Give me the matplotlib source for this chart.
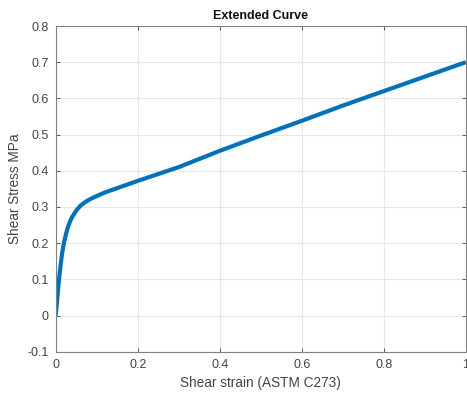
import matplotlib
matplotlib.use("Agg")
from matplotlib import pyplot as plt

plt.rcParams['font.family'] = ['Liberation Sans', 'DejaVu Sans']

# points
strain = [0.0, 0.004, 0.008, 0.012, 0.016, 0.02, 0.025, 0.03, 0.035, 0.04, 0.05,
          0.06, 0.07, 0.08, 0.09, 0.1, 0.12, 0.15, 0.2, 0.25, 0.3, 0.4, 0.5,
          0.6, 0.7, 0.8, 0.9, 1.0]
stress = [0.0, 0.05, 0.1, 0.14, 0.175, 0.2, 0.225, 0.245, 0.26, 0.272, 0.29,
          0.303, 0.312, 0.319, 0.325, 0.33, 0.34, 0.352, 0.372, 0.391, 0.41, 0.455, 0.497,
          0.538, 0.58, 0.62, 0.66, 0.70]

xticks = [0, 0.2, 0.4, 0.6, 0.8, 1]
yticks = [-0.1, 0, 0.1, 0.2, 0.3, 0.4, 0.5, 0.6, 0.7, 0.8]

fig = plt.figure(figsize=(4.67, 3.96), dpi=100)
ax = fig.add_axes([0.1193, 0.1119, 0.8779, 0.8224])
ax.plot(strain, stress, color='#0072BD', linewidth=3.0, solid_capstyle='butt')

ax.set_xlim(0, 1)
ax.set_ylim(-0.1, 0.8)
ax.set_xticks(xticks)
ax.set_xticklabels(['0', '0.2', '0.4', '0.6', '0.8', '1'])
ax.set_yticks(yticks)
ax.set_yticklabels(['-0.1', '0', '0.1', '0.2', '0.3', '0.4', '0.5', '0.6', '0.7', '0.8'])
ax.grid(True, color='#e6e6e6', linewidth=0.8)
ax.set_axisbelow(True)
ax.tick_params(direction='in', length=3, width=0.6, colors='#444444', labelsize=9,
               top=True, right=True, pad=5)
for s in ax.spines.values():
    s.set_color('#808080')
    s.set_linewidth(0.8)

ax.set_xlabel('Shear strain (ASTM C273)', fontsize=9.8, color='#444444', labelpad=4)
ax.set_ylabel('Shear Stress MPa', fontsize=9.8, color='#444444', labelpad=4)
ax.set_title('Extended Curve', fontsize=9, fontweight='bold', color='#111111', pad=5)

fig.savefig('out.png', dpi=100)
